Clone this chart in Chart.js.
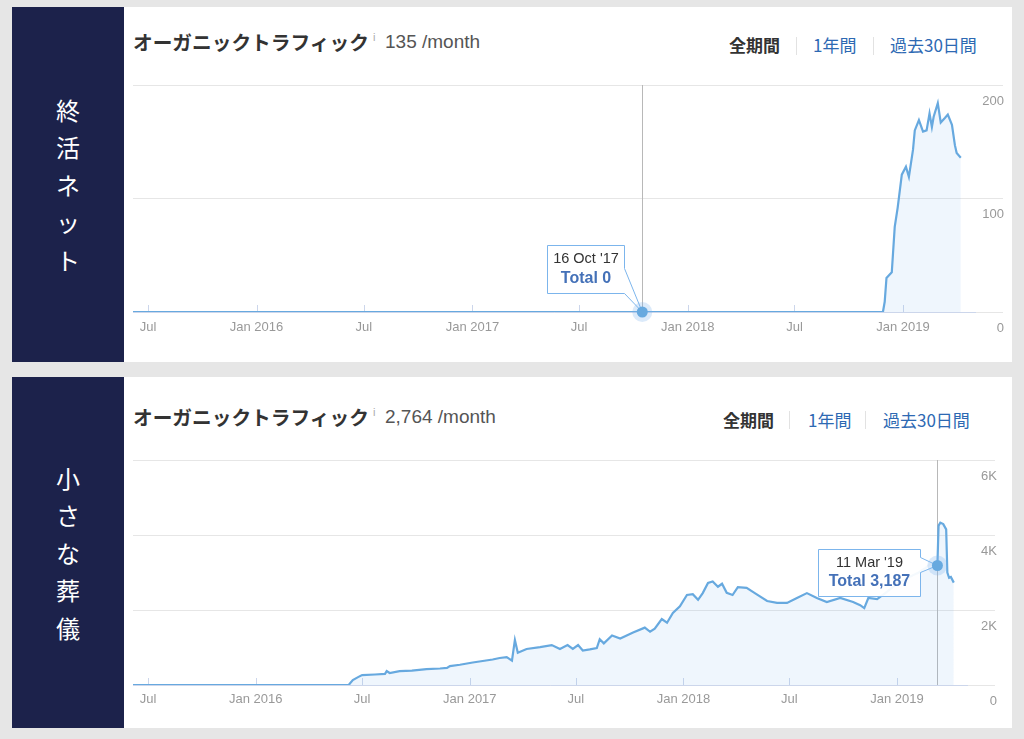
<!DOCTYPE html>
<html><head><meta charset="utf-8">
<script src="https://cdn.jsdelivr.net/npm/chart.js@4.4.1/dist/chart.umd.min.js"></script>
<style>
html,body{margin:0;padding:0;}
body{width:1024px;height:739px;background:#e6e6e6;position:relative;overflow:hidden;font-family:'Liberation Sans',Arial,sans-serif;}
.side{position:absolute;left:12px;width:112px;background:#1c224b;display:flex;flex-direction:column;align-items:center;justify-content:center;color:#fff;font-family:'Noto Sans CJK JP',sans-serif;font-size:24px;}
.side div{line-height:37.5px;height:37.5px;}
.panel{position:absolute;left:124px;width:888px;background:#fff;}
.abs{position:absolute;white-space:nowrap;}
.jp{font-family:'Noto Sans CJK JP',sans-serif;font-weight:700;font-size:19.7px;color:#333;height:30px;line-height:30px;}
.info{font-size:11px;color:#aaa;}
.num{font-size:19px;color:#555;height:30px;line-height:30px;}
.tab{height:24px;line-height:24px;font-family:'Noto Sans CJK JP',sans-serif;font-size:17px;color:#2d69b3;}
.tab.on{font-weight:700;color:#333;}
.sep{position:absolute;width:1px;height:18px;background:#e2e2e2;}
canvas{position:absolute;left:124px;}
</style>
</head><body>

<div class="side" style="top:7px;height:355px;"><div>終</div><div>活</div><div>ネ</div><div>ッ</div><div>ト</div></div>
<div class="panel" style="top:7px;height:355px;"></div>
<div class="abs jp" style="left:133px;top:27px;">オーガニックトラフィック</div>
<div class="abs info" style="left:373px;top:31px;">i</div>
<div class="abs num" style="left:385px;top:27px;">135 /month</div>
<div class="abs tab on" style="left:729px;top:33px;">全期間</div>
<div class="sep" style="left:796px;top:37px;"></div>
<div class="abs tab" style="left:813px;top:33px;">1年間</div>
<div class="sep" style="left:873px;top:37px;"></div>
<div class="abs tab" style="left:890px;top:33px;">過去30日間</div>
<canvas id="c1" width="888" height="292" style="top:70px;width:888px;height:292px;"></canvas>

<div class="side" style="top:377px;height:351px;"><div>小</div><div>さ</div><div>な</div><div>葬</div><div>儀</div></div>
<div class="panel" style="top:377px;height:351px;"></div>
<div class="abs jp" style="left:133px;top:402px;">オーガニックトラフィック</div>
<div class="abs info" style="left:373px;top:406px;">i</div>
<div class="abs num" style="left:385px;top:402px;">2,764 /month</div>
<div class="abs tab on" style="left:723px;top:408px;">全期間</div>
<div class="sep" style="left:789px;top:411px;"></div>
<div class="abs tab" style="left:808px;top:408px;">1年間</div>
<div class="sep" style="left:865px;top:411px;"></div>
<div class="abs tab" style="left:883px;top:408px;">過去30日間</div>
<canvas id="c2" width="888" height="288" style="top:440px;width:888px;height:288px;"></canvas>

<script>
// ---- data ----
const xTickDates = ["2015-07-01","2016-01-01","2016-07-01","2017-01-01","2017-07-01","2018-01-01","2018-07-01","2019-01-01"];
const xTickLabels = ["Jul","Jan 2016","Jul","Jan 2017","Jul","Jan 2018","Jul","Jan 2019"];

const site1Dates = ["2015-06-01","2018-11-28","2018-12-01","2018-12-04","2018-12-13","2018-12-18","2018-12-23","2018-12-30","2019-01-06","2019-01-11","2019-01-18","2019-01-21","2019-01-28","2019-02-04","2019-02-10","2019-02-15","2019-02-19","2019-02-22","2019-03-01","2019-03-06","2019-03-13","2019-03-18","2019-03-25","2019-03-30","2019-04-02","2019-04-09"];
const site1Values = [0,0,9,30,35,75,92,121,128,119,143,160,169,159,160,175,163,172,184,167,171,174,165,147,140,136];
const site1YTicks = [0,100,200];
const site1YLabels = ["0","100","200"];
const site1Hover = {date:"2017-10-16", value:0, title:"16 Oct '17", total:"Total 0"};

const site2Dates = ["2015-06-01","2016-06-08","2016-06-15","2016-06-24","2016-07-01","2016-07-23","2016-08-09","2016-08-12","2016-08-17","2016-09-03","2016-09-24","2016-10-19","2016-11-11","2016-11-23","2016-11-28","2016-12-15","2017-01-06","2017-01-23","2017-02-09","2017-02-21","2017-03-05","2017-03-14","2017-03-19","2017-03-24","2017-04-08","2017-05-01","2017-05-21","2017-06-04","2017-06-17","2017-06-26","2017-07-05","2017-07-13","2017-07-25","2017-08-06","2017-08-11","2017-08-18","2017-09-01","2017-09-15","2017-10-07","2017-10-27","2017-11-05","2017-11-13","2017-11-25","2017-12-04","2017-12-14","2017-12-26","2018-01-07","2018-01-17","2018-01-26","2018-02-03","2018-02-12","2018-02-20","2018-03-01","2018-03-08","2018-03-16","2018-03-26","2018-04-04","2018-04-19","2018-05-03","2018-05-24","2018-06-10","2018-06-27","2018-07-14","2018-07-31","2018-08-17","2018-09-03","2018-09-26","2018-10-18","2018-10-30","2018-11-06","2018-11-13","2018-11-28","2018-12-12","2019-01-01","2019-01-18","2019-02-07","2019-02-17","2019-02-27","2019-03-11","2019-03-13","2019-03-16","2019-03-21","2019-03-26","2019-03-28","2019-03-31","2019-04-03","2019-04-08"];
const site2Values = [0,0,130,210,265,280,295,370,320,370,385,425,440,455,505,540,600,640,680,720,745,650,1200,860,960,1010,1065,960,1065,960,1065,920,950,985,1220,1110,1320,1240,1400,1530,1420,1500,1760,1660,1920,2100,2400,2420,2270,2450,2720,2760,2620,2700,2460,2400,2610,2590,2450,2240,2190,2190,2320,2450,2320,2210,2320,2213,2130,2050,2320,2290,2450,2700,2850,3000,3100,3230,3187,4250,4330,4290,4150,3000,2860,2880,2730];
const site2YTicks = [0,2000,4000,6000];
const site2YLabels = ["0","2K","4K","6K"];
const site2Hover = {date:"2019-03-11", value:3187, title:"11 Mar '19", total:"Total 3,187"};

// ---- drawing ----
const LINE = '#67a9df';
const FONT = "'Liberation Sans', Arial, sans-serif";

const overlay = {
  id: 'overlay',
  beforeDatasetsDraw(chart, args, o) {
    const {ctx, chartArea: a, scales: {x, y}} = chart;
    ctx.save();
    ctx.lineWidth = 1;
    ctx.strokeStyle = '#ccd6eb';
    x.ticks.forEach(t => {
      const px = Math.round(x.getPixelForValue(t.value)) + 0.5;
      ctx.beginPath(); ctx.moveTo(px, a.bottom); ctx.lineTo(px, a.bottom - 7); ctx.stroke();
    });
    const hx = Math.round(x.getPixelForValue(Date.parse(o.hover.date))) + 0.5;
    ctx.strokeStyle = '#b8b8b8';
    ctx.beginPath(); ctx.moveTo(hx, a.top); ctx.lineTo(hx, a.bottom); ctx.stroke();
    ctx.restore();
  },
  afterDatasetsDraw(chart, args, o) {
    const {ctx, scales: {x, y}} = chart;
    const px = x.getPixelForValue(Date.parse(o.hover.date));
    const py = y.getPixelForValue(o.hover.value);
    const t = o.tip;
    const L = Math.round(px + t.dx) + 0.5, T = Math.round(py + t.dy) + 0.5, R = L + t.w, B = T + t.h;
    ctx.save();
    ctx.beginPath();
    ctx.moveTo(L, T); ctx.lineTo(R, T); ctx.lineTo(R, T + t.c1); ctx.lineTo(px, py);
    ctx.lineTo(R, T + t.c2); ctx.lineTo(R, B); ctx.lineTo(L, B); ctx.closePath();
    ctx.fillStyle = 'rgba(255,255,255,0.93)';
    ctx.fill();
    ctx.strokeStyle = '#7cb5ec'; ctx.lineWidth = 1; ctx.stroke();
    ctx.textAlign = 'center'; ctx.textBaseline = 'middle';
    const cx = (L + R) / 2;
    ctx.fillStyle = '#333'; ctx.font = '14.5px ' + FONT;
    ctx.fillText(o.hover.title, cx, T + t.l1);
    ctx.fillStyle = '#4471b8'; ctx.font = 'bold 16px ' + FONT;
    ctx.fillText(o.hover.total, cx, T + t.l2);
    // marker
    ctx.beginPath(); ctx.arc(px, py, 10, 0, Math.PI * 2);
    ctx.fillStyle = 'rgba(124,181,236,0.28)'; ctx.fill();
    ctx.beginPath(); ctx.arc(px, py, 5.5, 0, Math.PI * 2);
    ctx.fillStyle = LINE; ctx.fill();
    ctx.restore();
  }
};

function makeChart(id, dates, values, yTicks, yLabels, hover, g) {
  new Chart(document.getElementById(id), {
    type: 'line',
    data: {
      datasets: [{
        data: dates.map((d, i) => ({x: Date.parse(d), y: values[i]})),
        borderColor: LINE,
        borderWidth: 2.2,
        backgroundColor: 'rgba(124,181,236,0.12)',
        fill: 'origin',
        pointRadius: 0,
        tension: 0
      }]
    },
    options: {
      responsive: false,
      animation: false,
      devicePixelRatio: 1,
      events: [],
      layout: {padding: g.padding},
      plugins: {legend: {display: false}, tooltip: {enabled: false}, overlay: {hover: hover, tip: g.tip}},
      scales: {
        x: {
          type: 'linear',
          min: Date.parse(g.xMin), max: Date.parse(g.xMax),
          afterBuildTicks: s => { s.ticks = xTickDates.map(d => ({value: Date.parse(d)})); },
          afterFit: s => { s.height = g.xAxisH; },
          grid: {display: false, drawTicks: false, tickLength: 0},
          border: {display: true, color: '#ccd6eb', width: 1},
          ticks: {autoSkip: false, maxRotation: 0, padding: g.xPad, color: '#999',
                  font: {family: FONT, size: 13}, callback: (v, i) => xTickLabels[i]}
        },
        y: {
          type: 'linear',
          position: 'right',
          min: yTicks[0], max: yTicks[yTicks.length - 1],
          afterBuildTicks: s => { s.ticks = yTicks.map(v => ({value: v})); },
          afterFit: s => { s.width = g.yAxisW; },
          grid: {color: '#e6e6e6', drawTicks: true, tickLength: g.tickLen, tickColor: '#e6e6e6'},
          border: {display: false},
          ticks: {crossAlign: 'far', padding: g.yPad, labelOffset: 16, color: '#999',
                  font: {family: FONT, size: 13}, callback: (v, i) => yLabels[i]}
        }
      }
    },
    plugins: [overlay]
  });
}

makeChart('c1', site1Dates, site1Values, site1YTicks, site1YLabels, site1Hover, {
  padding: {left: 9, top: 15, right: 8, bottom: 0},
  xMin: "2015-06-05T14:00:00Z", xMax: "2019-05-03T02:00:00Z",
  xAxisH: 50, xPad: 8, yAxisW: 29, tickLen: 28, yPad: -19,
  tip: {dx: -95, dy: -67, w: 77, h: 48, c1: 23, c2: 48, l1: 13, l2: 33}
});
makeChart('c2', site2Dates, site2Values, site2YTicks, site2YLabels, site2Hover, {
  padding: {left: 9, top: 20, right: 15, bottom: 0},
  xMin: "2015-06-05T10:00:00Z", xMax: "2019-04-30T14:00:00Z",
  xAxisH: 43, xPad: 7, yAxisW: 30, tickLen: 28, yPad: -13,
  tip: {dx: -119, dy: -16, w: 102, h: 47, c1: 8, c2: 23, l1: 13, l2: 32}
});
</script>
</body></html>
